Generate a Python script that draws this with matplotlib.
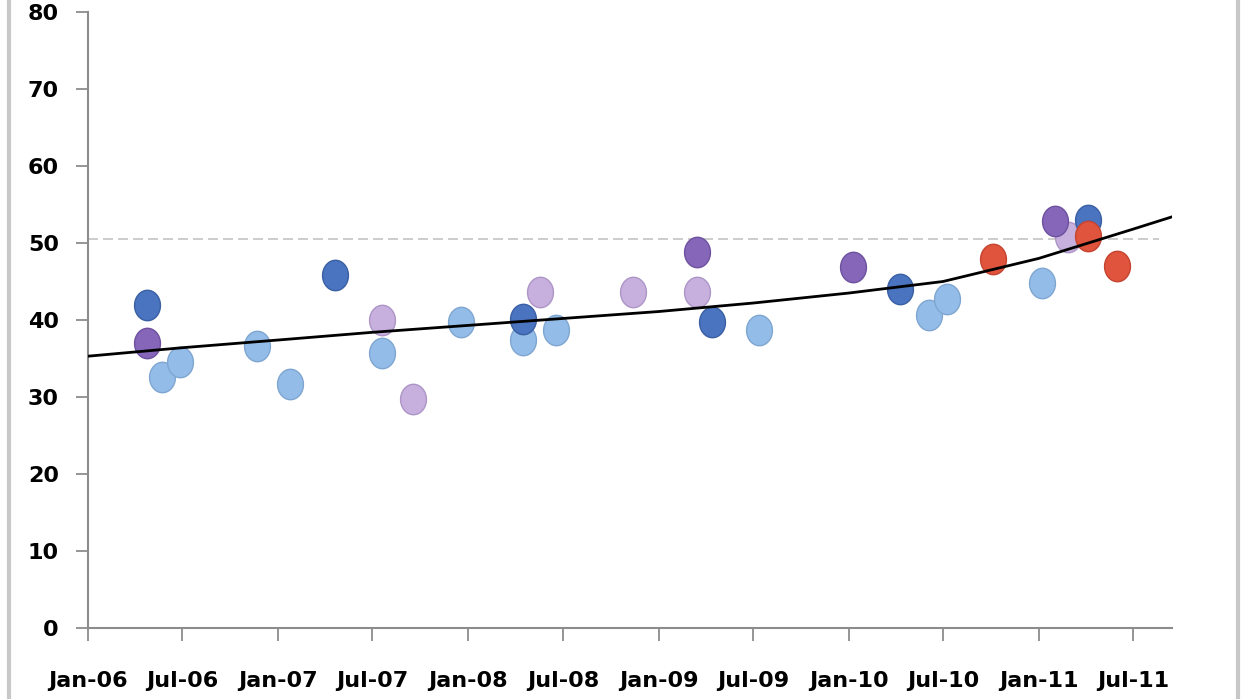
import numpy as np
import pandas as pd
import matplotlib.pyplot as plt
from matplotlib.path import Path
from matplotlib.lines import Line2D

# data
dark_blue_dates = ['2006-04-25', '2007-04-21', '2008-04-15', '2009-04-13', '2010-04-09', '2011-04-05']
dark_blue_vals = [42, 45.8, 40.1, 39.7, 44, 53]

purple_dates = ['2006-04-25', '2009-03-16', '2010-01-09', '2011-02-01']
purple_vals = [37, 48.8, 46.9, 52.9]

lilac_dates = ['2007-07-19', '2007-09-18', '2008-05-18', '2008-11-13', '2009-03-16', '2011-02-26']
lilac_vals = [40, 29.7, 43.6, 43.6, 43.6, 50.8]

light_blue_dates = ['2006-05-24', '2006-06-26', '2006-11-22', '2007-01-23', '2007-07-19', '2007-12-19',
                    '2008-04-15', '2008-06-18', '2009-07-13', '2010-06-05', '2010-07-08', '2011-01-07']
light_blue_vals = [32.6, 34.5, 36.6, 31.7, 35.7, 39.7, 37.4, 38.7, 38.7, 40.6, 42.7, 44.8]

red_dates = ['2010-10-05', '2011-04-05', '2011-06-01']
red_vals = [47.9, 50.9, 47]

# trend line values read at the half-year ticks
trend_dates = ['2006-01-01', '2006-07-01', '2007-01-01', '2007-07-01', '2008-01-01', '2008-07-01',
               '2009-01-01', '2009-07-01', '2010-01-01', '2010-07-01', '2011-01-01', '2011-07-01',
               '2011-09-14']
trend_vals = [35.3, 36.4, 37.4, 38.4, 39.3, 40.2, 41.1, 42.2, 43.5, 45.0, 48.0, 51.8, 53.4]

ref_level = 50.5

tick_dates = ['2006-01-01', '2006-07-01', '2007-01-01', '2007-07-01', '2008-01-01', '2008-07-01',
              '2009-01-01', '2009-07-01', '2010-01-01', '2010-07-01', '2011-01-01', '2011-07-01']
tick_labels = ['Jan-06', 'Jul-06', 'Jan-07', 'Jul-07', 'Jan-08', 'Jul-08',
               'Jan-09', 'Jul-09', 'Jan-10', 'Jul-10', 'Jan-11', 'Jul-11']

d = pd.to_datetime

# slightly tall elliptical marker
t = np.linspace(0, 2 * np.pi, 60)
ellipse = Path(np.column_stack([0.85 * np.cos(t), np.sin(t)]), closed=True)

fig = plt.figure(figsize=(12.45, 6.99), dpi=100)
ax = fig.add_axes([0.0707, 0.1016, 0.8707, 0.8812])

ax.hlines(ref_level, d('2006-01-01'), d('2011-08-20'), colors='#c4c4c4',
          linestyles=(0, (6, 3)), linewidth=1.2, zorder=1)

series = [
    (light_blue_dates, light_blue_vals, '#93bde8', '#7ea6d0'),
    (lilac_dates, lilac_vals, '#c7b0de', '#ad95c6'),
    (dark_blue_dates, dark_blue_vals, '#4a74c0', '#3a5fa2'),
    (purple_dates, purple_vals, '#8566b9', '#6e519f'),
    (red_dates, red_vals, '#e0533c', '#c44430'),
]
for dates, vals, col, edge in series:
    ax.scatter(d(dates), vals, marker=ellipse, s=480, color=col, edgecolors=edge,
               linewidths=1.0, zorder=3)

ax.plot(d(trend_dates), trend_vals, color='black', linewidth=2.0, zorder=4)

ax.set_xlim(d('2006-01-01'), d('2011-09-14'))
ax.set_ylim(0, 80)
ax.set_yticks(np.arange(0, 81, 10))
ax.set_xticks(d(tick_dates))
ax.set_xticklabels(tick_labels)

for s in ['top', 'right']:
    ax.spines[s].set_visible(False)
for s in ['left', 'bottom']:
    ax.spines[s].set_color('#8c8c8c')
    ax.spines[s].set_linewidth(1.5)
ax.tick_params(axis='both', colors='#8c8c8c', length=9, width=1.3)
ax.tick_params(axis='y', pad=12, labelsize=16, labelcolor='black')
ax.tick_params(axis='x', pad=22, labelsize=16, labelcolor='black')
for lab in ax.get_xticklabels() + ax.get_yticklabels():
    lab.set_fontweight('bold')

# screenshot frame edges
fig.add_artist(Line2D([0.0075, 0.0075], [0, 1], color='#c8c8c8', linewidth=3))
fig.add_artist(Line2D([0.9945, 0.9945], [0, 1], color='#c8c8c8', linewidth=3))

fig.savefig('out.png', dpi=100)
